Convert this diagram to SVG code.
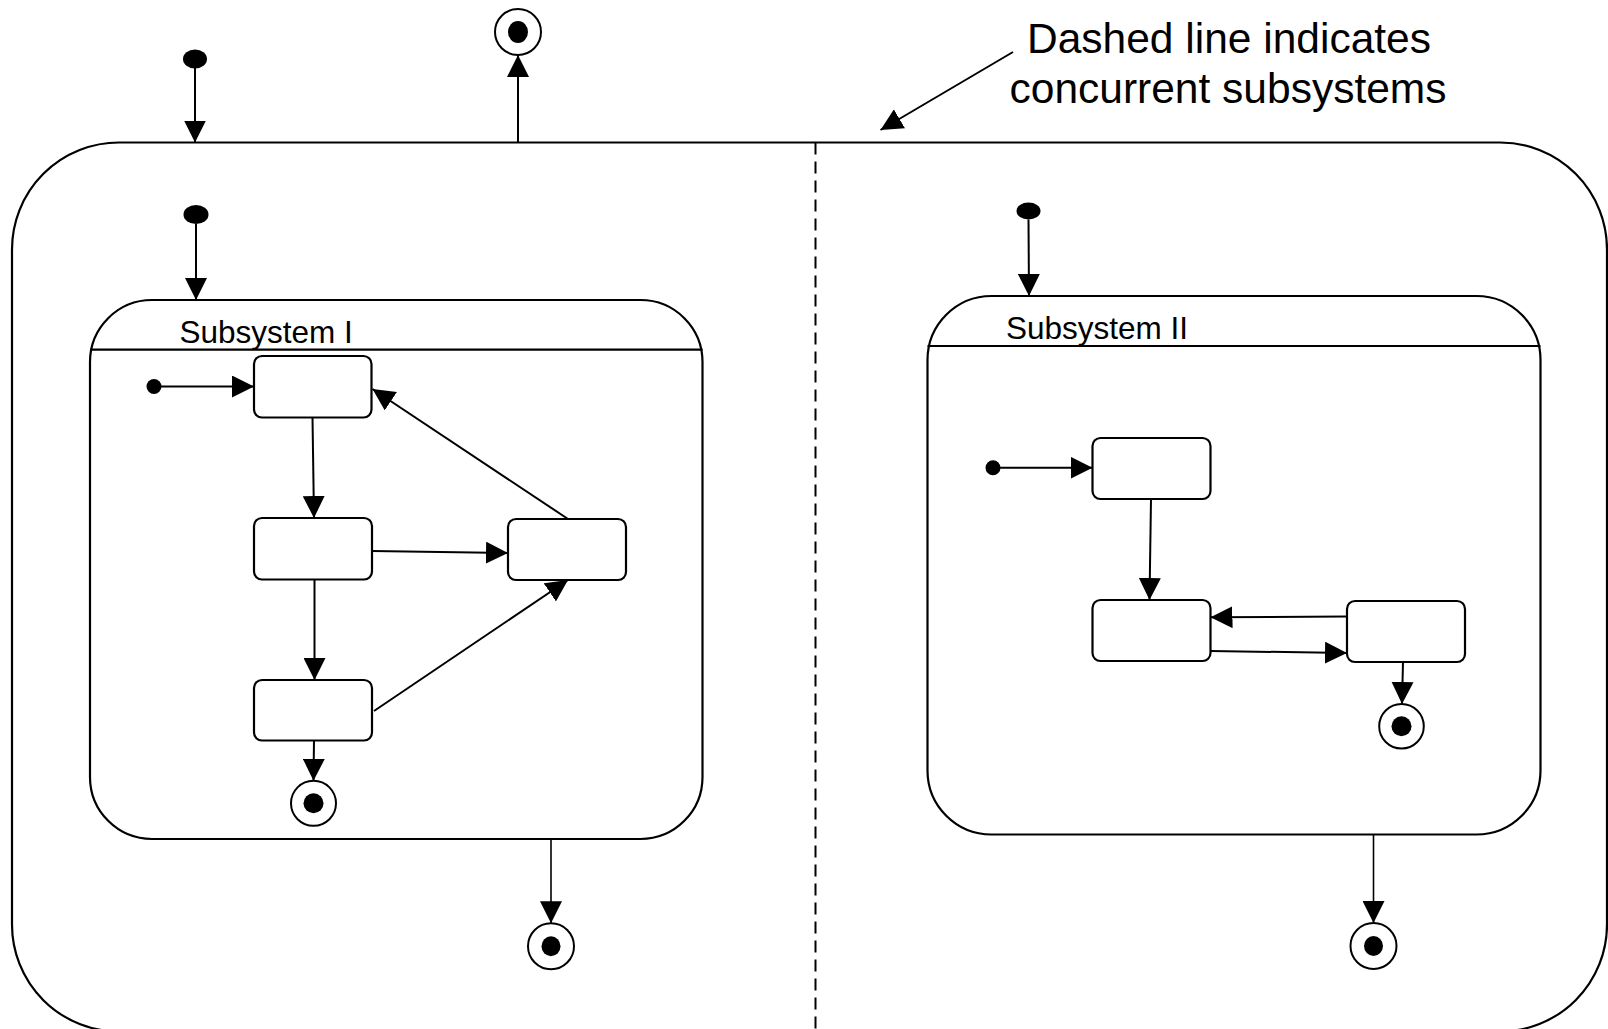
<svg xmlns="http://www.w3.org/2000/svg" width="1608" height="1029" viewBox="0 0 1608 1029">
  <style>
    .box { fill: none; stroke: #000; stroke-width: 2.2; }
    .state { fill: #fff; stroke: #000; stroke-width: 2.2; }
    .conn { fill: none; stroke: #000; stroke-width: 2; marker-end: url(#arr); }
    .thin { stroke-width: 1.6; }
    .dot { fill: #000; }
    .ring { fill: #fff; stroke: #000; stroke-width: 2; }
    .lbl { font-family: "Liberation Sans", Arial, sans-serif; fill: #000; }
  </style>
  <defs>
    <marker id="arr" markerUnits="userSpaceOnUse" markerWidth="22" markerHeight="22" viewBox="0 0 22 22" refX="22" refY="11" orient="auto">
      <path d="M0,0 L22,11 L0,22 z" fill="#000"/>
    </marker>
  </defs>
  <rect width="1608" height="1029" fill="#fff"/>

  <g id="composite-state">
    <rect class="box" x="12" y="142.5" width="1595" height="889" rx="107" ry="107"/>
    <line x1="815.5" y1="142.5" x2="815.5" y2="1029" stroke="#000" stroke-width="2" stroke-dasharray="12 7"/>
  </g>

  <g id="top-initial"><ellipse class="dot" cx="195" cy="59" rx="12" ry="9.5"/></g>
  <g id="top-final"><circle class="ring" cx="518" cy="32" r="23"/><ellipse class="dot" cx="518" cy="32" rx="10" ry="11"/></g>

  <g id="subsystem-1">
    <rect class="box" x="90" y="300" width="612.5" height="539" rx="62" ry="62"/>
    <line x1="90" y1="349.7" x2="702.5" y2="349.7" stroke="#000" stroke-width="2.2"/>
    <text class="lbl" x="179.5" y="343" font-size="31.5">Subsystem I</text>
  </g>
  <g id="subsystem-2">
    <rect class="box" x="927.5" y="296" width="613" height="538.5" rx="64" ry="64"/>
    <line x1="927.5" y1="346" x2="1540.5" y2="346" stroke="#000" stroke-width="2.2"/>
    <text class="lbl" x="1006" y="339" font-size="31.5">Subsystem II</text>
  </g>

  <g id="s1-initial-outer"><ellipse class="dot" cx="196" cy="214.5" rx="12.5" ry="9.5"/></g>
  <g id="s2-initial-outer"><ellipse class="dot" cx="1028.5" cy="211" rx="12" ry="8.5"/></g>

  <g id="s1-initial"><circle class="dot" cx="154" cy="386.5" r="7.5"/></g>
  <g id="s1-a"><rect class="state" x="254" y="356" width="117.5" height="61.5" rx="8"/></g>
  <g id="s1-b"><rect class="state" x="254" y="518" width="118" height="61.5" rx="8"/></g>
  <g id="s1-c"><rect class="state" x="508" y="519" width="118" height="61" rx="8"/></g>
  <g id="s1-d"><rect class="state" x="254" y="680" width="118" height="60.5" rx="8"/></g>
  <g id="s1-final"><circle class="ring" cx="313.5" cy="803.3" r="22.5"/><circle class="dot" cx="313.5" cy="803.3" r="10"/></g>
  <g id="s1-exit-final"><circle class="ring" cx="551" cy="946.3" r="23"/><ellipse class="dot" cx="551" cy="946.3" rx="9.5" ry="10"/></g>

  <g id="s2-initial"><circle class="dot" cx="993" cy="467.7" r="7.5"/></g>
  <g id="s2-e"><rect class="state" x="1092.5" y="438" width="118" height="61" rx="8"/></g>
  <g id="s2-f"><rect class="state" x="1092.5" y="600" width="118" height="61" rx="8"/></g>
  <g id="s2-g"><rect class="state" x="1347" y="601" width="118" height="61" rx="8"/></g>
  <g id="s2-final"><circle class="ring" cx="1401.5" cy="726.3" r="22.3"/><circle class="dot" cx="1401.5" cy="726.3" r="10"/></g>
  <g id="s2-exit-final"><circle class="ring" cx="1373.5" cy="946" r="23"/><ellipse class="dot" cx="1373.5" cy="946" rx="9.5" ry="10"/></g>

  <g id="annotation">
    <text class="lbl" font-size="42.5" text-anchor="middle"><tspan x="1229" y="53">Dashed line indicates</tspan><tspan x="1228" y="102.5">concurrent subsystems</tspan></text>
  </g>

  <g id="connectors">
    <line class="conn" x1="195" y1="68" x2="195" y2="142.5"/>
    <line class="conn" x1="518" y1="142.5" x2="518" y2="55"/>
    <line class="conn" x1="196" y1="224" x2="196" y2="300"/>
    <line class="conn" x1="1028.5" y1="219.5" x2="1029" y2="296"/>

    <line class="conn" x1="161" y1="386.5" x2="254" y2="386.5"/>
    <line class="conn" x1="312.5" y1="417.5" x2="314" y2="518"/>
    <line class="conn" x1="372" y1="551" x2="508" y2="553"/>
    <line class="conn" x1="314.5" y1="579.5" x2="314.5" y2="680"/>
    <line class="conn" x1="374" y1="711" x2="568" y2="580"/>
    <line class="conn" x1="568" y1="519" x2="372.5" y2="389"/>
    <line class="conn" x1="314" y1="740.5" x2="313.5" y2="780.8"/>
    <line class="conn thin" x1="551" y1="839" x2="551" y2="923.3"/>

    <line class="conn" x1="1000" y1="467.7" x2="1092.5" y2="467.7"/>
    <line class="conn" x1="1151" y1="499" x2="1149.5" y2="600"/>
    <line class="conn" x1="1347" y1="616.5" x2="1210.5" y2="617.3"/>
    <line class="conn" x1="1210.5" y1="651" x2="1347" y2="653"/>
    <line class="conn" x1="1403" y1="662" x2="1402" y2="704"/>
    <line class="conn thin" x1="1373.5" y1="834.5" x2="1373.5" y2="923"/>

    <line class="conn" x1="1013" y1="52" x2="880.5" y2="130"/>
  </g>
</svg>
